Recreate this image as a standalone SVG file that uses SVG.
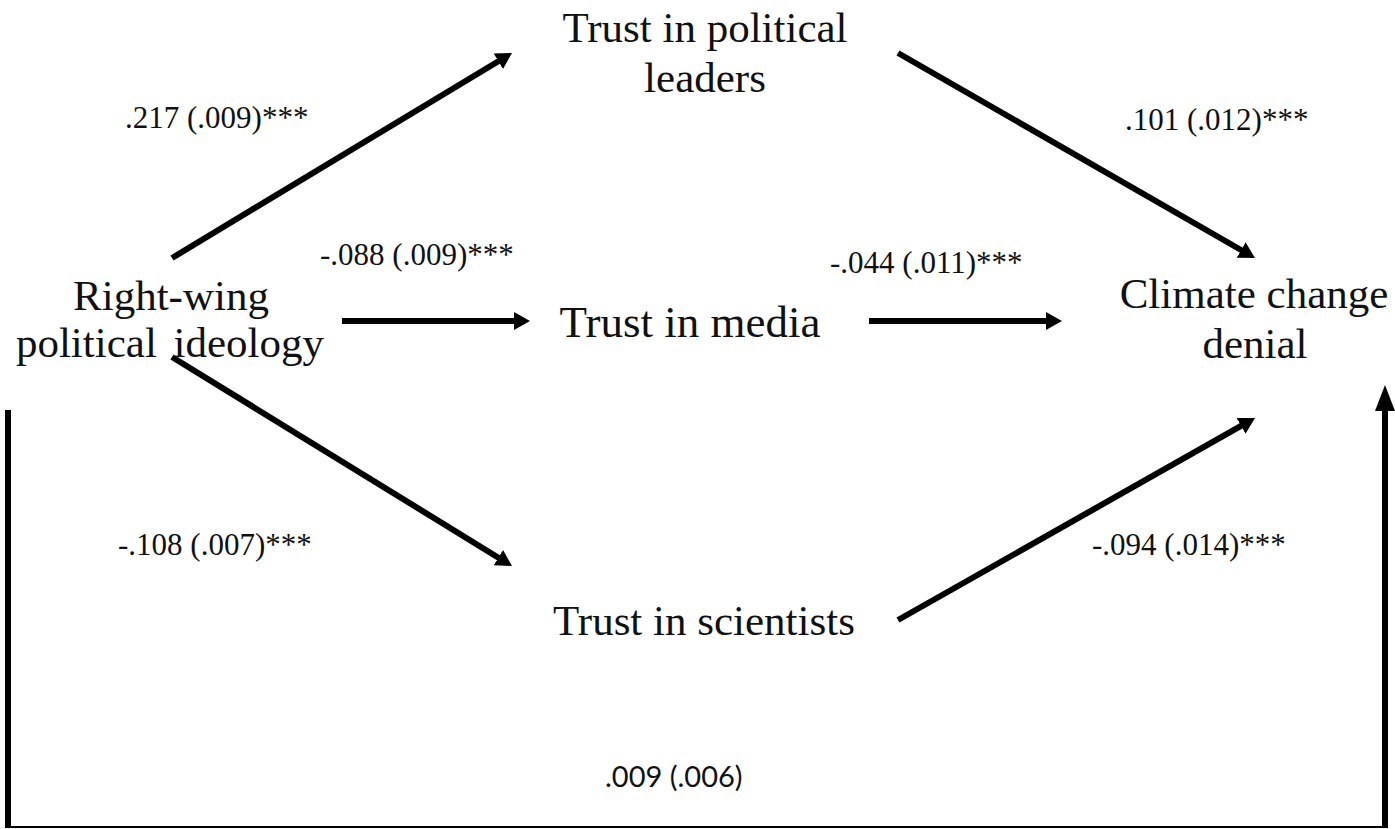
<svg xmlns="http://www.w3.org/2000/svg" width="1395" height="829" viewBox="0 0 1395 829">
<style>
.node{font-family:"Liberation Serif","Times New Roman",serif;font-size:43px;fill:#111;text-anchor:middle}
.lbl{font-family:"Liberation Serif","Times New Roman",serif;font-size:31px;fill:#111}
.lbl2{font-family:Lato,"Open Sans",sans-serif;font-size:29px;fill:#111}
.arr{stroke:#000;stroke-width:6;fill:none;marker-end:url(#ah)}
</style>
<defs>
<marker id="ah" viewBox="0 0 16 18" refX="3" refY="9" markerWidth="16" markerHeight="18" markerUnits="userSpaceOnUse" orient="auto">
<path d="M0,0 L16,9 L0,18 z" fill="#000"/>
</marker>
<marker id="ahv" viewBox="0 0 26 20" refX="3" refY="10" markerWidth="26" markerHeight="20" markerUnits="userSpaceOnUse" orient="auto">
<path d="M0,0 L26,10 L0,20 z" fill="#000"/>
</marker>
</defs>
<rect width="1395" height="829" fill="#fff"/>
<g id="connectors">
<line class="arr" x1="172" y1="258" x2="500.9" y2="59.7"/>
<line class="arr" x1="898" y1="53" x2="1243.7" y2="251.5"/>
<line class="arr" x1="342" y1="321" x2="517" y2="321"/>
<line class="arr" x1="869" y1="321" x2="1049" y2="321"/>
<line class="arr" x1="172" y1="357" x2="500.9" y2="559.2"/>
<line class="arr" x1="898" y1="620" x2="1243.7" y2="424.4"/>
<line x1="8" y1="410" x2="8" y2="828" stroke="#000" stroke-width="6"/>
<line x1="8" y1="827" x2="1385" y2="827" stroke="#000" stroke-width="2"/>
<line x1="1385" y1="828" x2="1385" y2="408" stroke="#000" stroke-width="6" marker-end="url(#ahv)"/>
</g>
<g id="labels">
<text class="lbl" x="125" y="128">.217 (.009)***</text>
<text class="lbl" x="320" y="265">-.088 (.009)***</text>
<text class="lbl" x="1125" y="130">.101 (.012)***</text>
<text class="lbl" x="830" y="273">-.044 (.011)***</text>
<text class="lbl" x="118" y="555">-.108 (.007)***</text>
<text class="lbl" x="1092" y="555">-.094 (.014)***</text>
<text class="lbl2" x="605" y="787">.009 (.006)</text>
</g>
<g id="node-ideology">
<text class="node" x="171" y="310">Right-wing</text>
<text class="node" x="170" y="357" word-spacing="6">political ideology</text>
</g>
<g id="node-leaders">
<text class="node" x="705" y="42">Trust in political</text>
<text class="node" x="705" y="92">leaders</text>
</g>
<g id="node-media">
<text class="node" x="690" y="337" style="font-size:45px">Trust in media</text>
</g>
<g id="node-scientists">
<text class="node" x="704" y="635">Trust in scientists</text>
</g>
<g id="node-denial">
<text class="node" x="1254" y="308">Climate change</text>
<text class="node" x="1255" y="358">denial</text>
</g>
</svg>
